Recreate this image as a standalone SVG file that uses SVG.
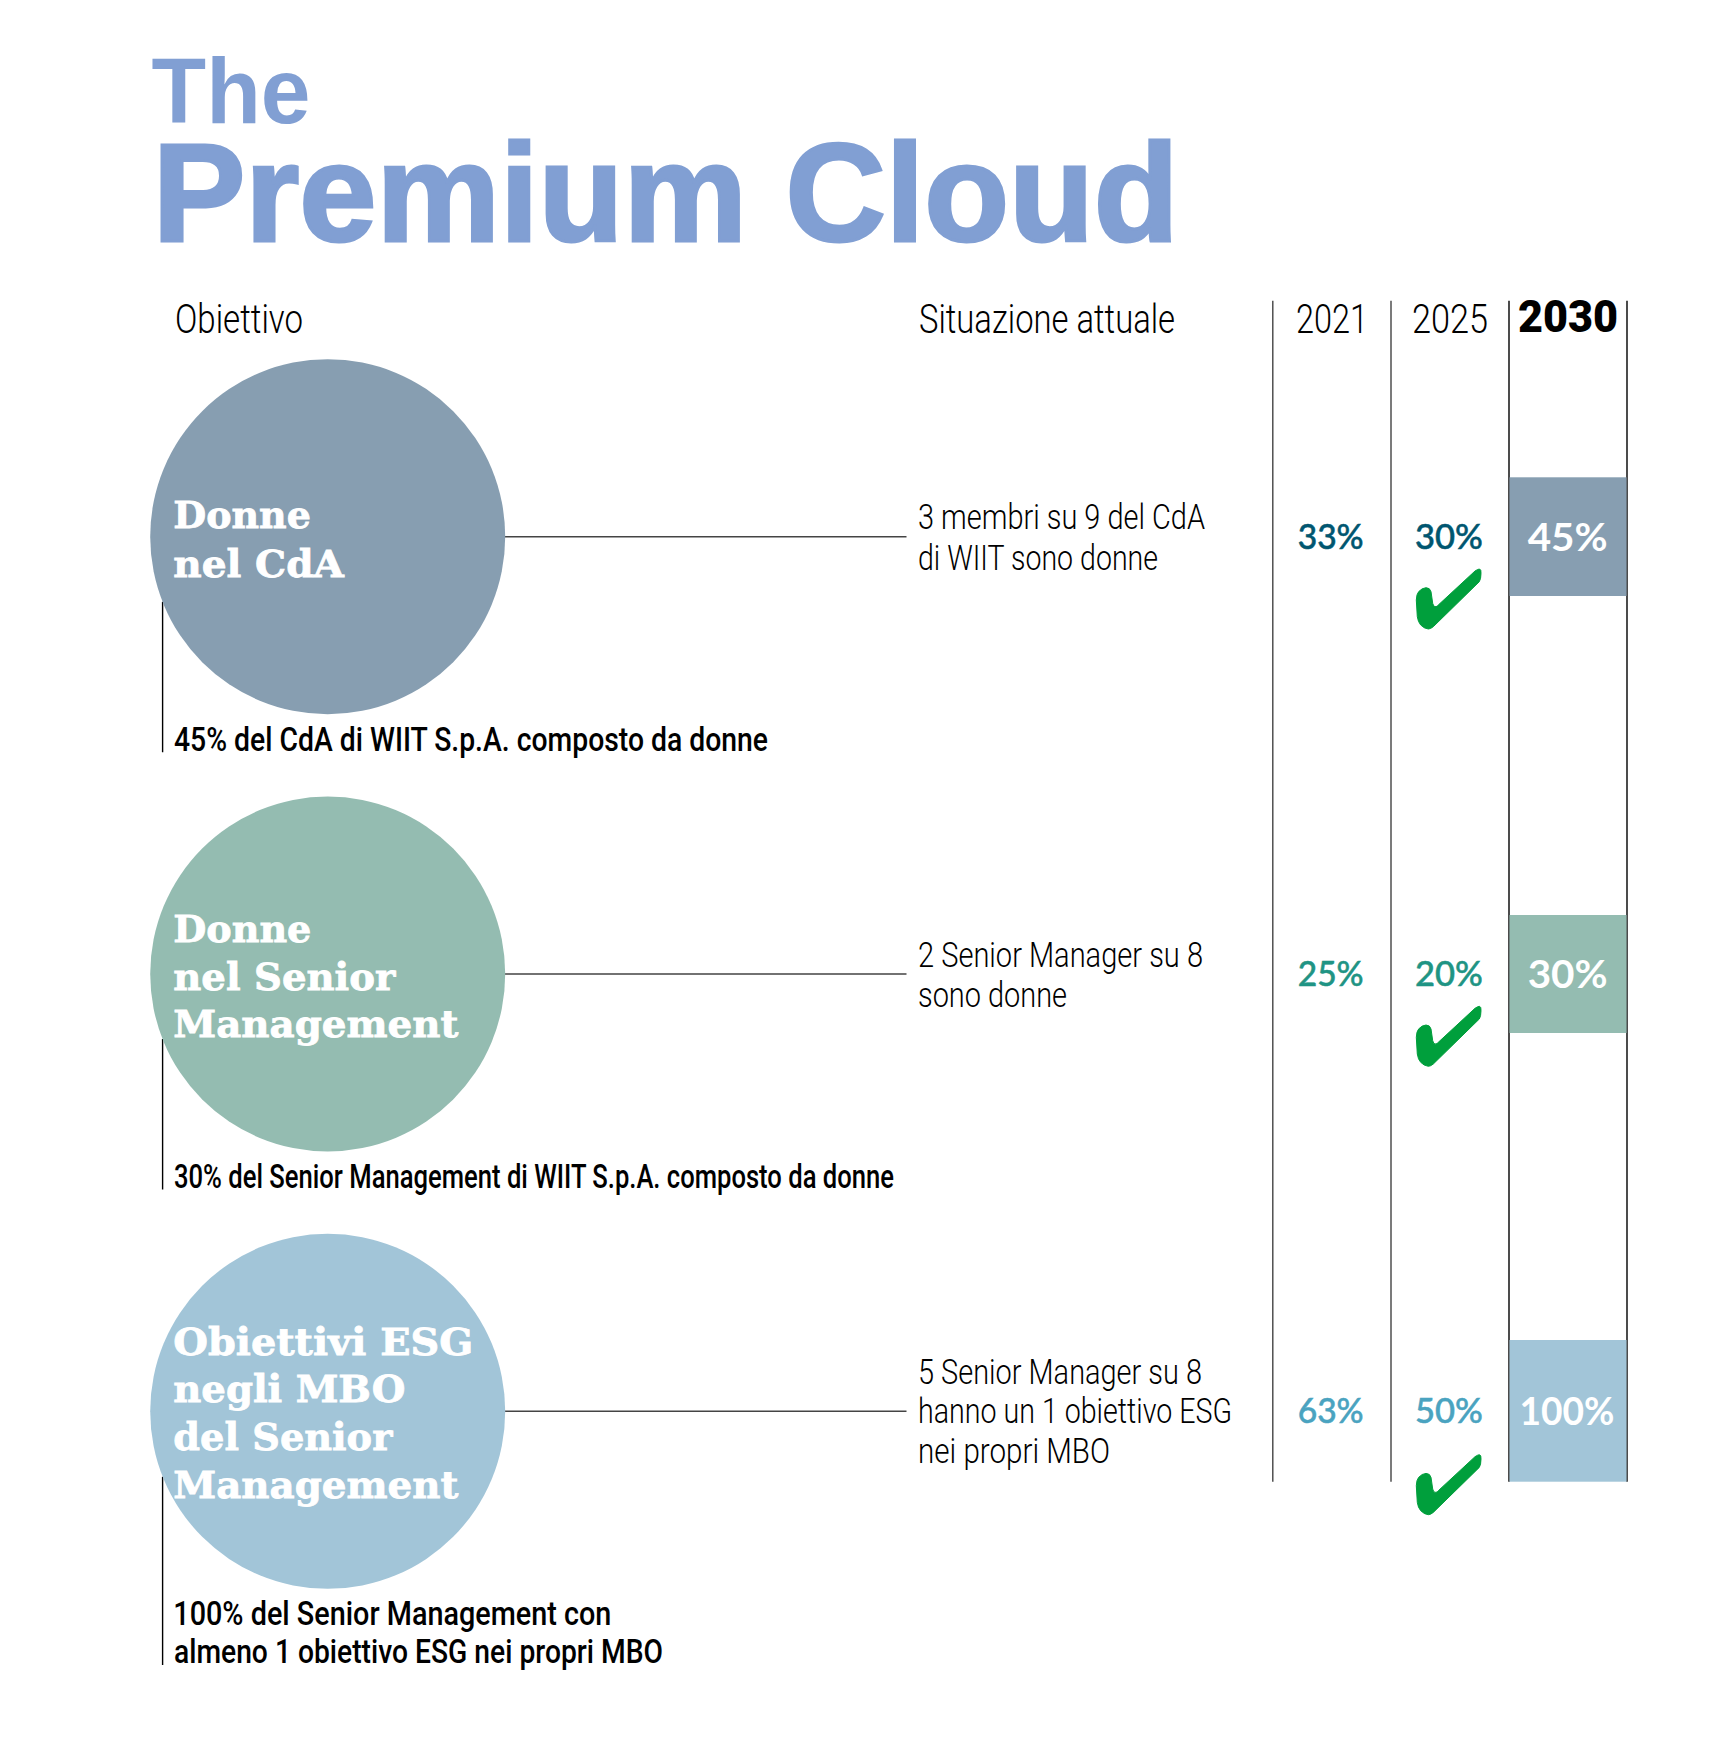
<svg xmlns="http://www.w3.org/2000/svg" width="1727" height="1745" viewBox="0 0 1727 1745">
<style>
text{font-family:"Roboto","Liberation Sans",sans-serif}
.title{font-family:"Liberation Sans",Arial,sans-serif;font-weight:700;fill:#819fd3}
.head{font-size:40px;font-weight:300;fill:#000}
.body{font-size:35px;font-weight:300;fill:#000}
.cap{font-size:33px;font-weight:500;fill:#000}
.serif{font-family:"DejaVu Serif","Liberation Serif",serif;font-weight:700;font-size:38px;fill:#fff;stroke:#fff;stroke-width:.8}
.pct{font-family:"Lato","Open Sans",sans-serif;font-size:34px;font-weight:500;stroke-width:.5}
.big{font-family:"Lato","Open Sans",sans-serif;font-size:38px;font-weight:700;fill:#fff}
.c1{fill:#879eb1}.c2{fill:#94bcb1}.c3{fill:#a2c5d8}
.t1{fill:#005670;stroke:#005670}.t2{fill:#1f9484;stroke:#1f9484}.t3{fill:#4aa3c0;stroke:#4aa3c0}
.lg{stroke:#444;stroke-width:1.4;fill:none}
.lk{stroke:#000;stroke-width:1.4;fill:none}
</style>
<defs>
<path id="tick" fill="#009f3c" stroke="#009f3c" stroke-width="1" stroke-linejoin="round" d="M1416.3 600Q1416.5 594 1418.8 591.5Q1422 588 1426 587.7Q1430 587.7 1431 591.7L1432.7 603.3Q1433.5 607.5 1436 606.7Q1437.3 606.3 1438.3 605L1475 571Q1478 569 1479.5 569Q1481.3 569.5 1481 573.3Q1481 579 1479.3 581.7L1433.3 626.7Q1430.5 629 1428.3 629Q1424 628.5 1420.7 625Q1418 622 1417.3 616.7Z"/>
</defs>
<rect width="1727" height="1745" fill="#fff"/>
<g id="title">
<text class="title" x="151.5" y="122.7" font-size="92" textLength="159" lengthAdjust="spacingAndGlyphs">The</text>
<text class="title" x="152.7" y="240.7" font-size="140" stroke="#819fd3" stroke-width="3" textLength="1026" lengthAdjust="spacingAndGlyphs">Premium Cloud</text>
</g>
<g id="connectors">
<path class="lg" d="M504.5 536.7H906.5M504.5 974H906.5M504.5 1411.3H906.5"/>
<path class="lk" d="M162.6 601.7V752.3M162.6 1039V1189.6M162.6 1476.7V1665"/>
<path class="lg" d="M1272.8 300.7V1481.7M1391 300.7V1481.7"/>
<path class="lk" d="M1509 300.7V1481.7M1627 300.7V1481.7"/>
</g>
<g id="headers">
<text class="head" x="175" y="332.6" textLength="128" lengthAdjust="spacingAndGlyphs">Obiettivo</text>
<text class="head" x="919" y="332.6" textLength="256" lengthAdjust="spacingAndGlyphs">Situazione attuale</text>
<text class="head" x="1296" y="332.6" textLength="72" lengthAdjust="spacingAndGlyphs">2021</text>
<text class="head" x="1412" y="332.6" textLength="76" lengthAdjust="spacingAndGlyphs">2025</text>
<text class="head" x="1518" y="332" style="font-weight:900;font-size:44px" textLength="100" lengthAdjust="spacingAndGlyphs">2030</text>
</g>
<g id="row1">
<circle class="c1" cx="327.7" cy="536.7" r="177.5"/>
<text class="serif" x="173.3" y="528.3" textLength="137.5" lengthAdjust="spacingAndGlyphs">Donne</text>
<text class="serif" x="173.3" y="576.5" textLength="170.5" lengthAdjust="spacingAndGlyphs">nel CdA</text>
<text class="cap" x="174" y="751" textLength="594" lengthAdjust="spacingAndGlyphs">45% del CdA di WIIT S.p.A. composto da donne</text>
<text class="body" x="918" y="529.3" textLength="287" lengthAdjust="spacingAndGlyphs">3 membri su 9 del CdA</text>
<text class="body" x="918" y="569.5" textLength="240" lengthAdjust="spacingAndGlyphs">di WIIT sono donne</text>
<text class="pct t1" x="1297.7" y="549.3" textLength="66" lengthAdjust="spacingAndGlyphs">33%</text>
<text class="pct t1" x="1415" y="549.3" textLength="68" lengthAdjust="spacingAndGlyphs">30%</text>
<rect class="c1" x="1509.5" y="477.3" width="117" height="118.7"/>
<text class="big" x="1527.7" y="551" textLength="80" lengthAdjust="spacingAndGlyphs">45%</text>
<use href="#tick"/>
</g>
<g id="row2">
<circle class="c2" cx="327.7" cy="974" r="177.5"/>
<text class="serif" x="173.3" y="941.7" textLength="138" lengthAdjust="spacingAndGlyphs">Donne</text>
<text class="serif" x="173.3" y="989.5" textLength="222" lengthAdjust="spacingAndGlyphs">nel Senior</text>
<text class="serif" x="173.3" y="1037" textLength="285" lengthAdjust="spacingAndGlyphs">Management</text>
<text class="cap" x="174" y="1188.3" textLength="720" lengthAdjust="spacingAndGlyphs">30% del Senior Management di WIIT S.p.A. composto da donne</text>
<text class="body" x="918" y="966.7" textLength="285" lengthAdjust="spacingAndGlyphs">2 Senior Manager su 8</text>
<text class="body" x="918" y="1006.7" textLength="149" lengthAdjust="spacingAndGlyphs">sono donne</text>
<text class="pct t2" x="1297.7" y="985.7" textLength="66" lengthAdjust="spacingAndGlyphs">25%</text>
<text class="pct t2" x="1415" y="985.7" textLength="68" lengthAdjust="spacingAndGlyphs">20%</text>
<rect class="c2" x="1509.5" y="915" width="117" height="118"/>
<text class="big" x="1527.7" y="987.7" textLength="80" lengthAdjust="spacingAndGlyphs">30%</text>
<use href="#tick" y="437.3"/>
</g>
<g id="row3">
<circle class="c3" cx="327.7" cy="1411.3" r="177.5"/>
<text class="serif" x="173.3" y="1354.7" textLength="300" lengthAdjust="spacingAndGlyphs">Obiettivi ESG</text>
<text class="serif" x="173.3" y="1401.8" textLength="232" lengthAdjust="spacingAndGlyphs">negli MBO</text>
<text class="serif" x="173.3" y="1450.2" textLength="219" lengthAdjust="spacingAndGlyphs">del Senior</text>
<text class="serif" x="173.3" y="1498" textLength="285" lengthAdjust="spacingAndGlyphs">Management</text>
<text class="cap" x="173.3" y="1625" textLength="438" lengthAdjust="spacingAndGlyphs">100% del Senior Management con</text>
<text class="cap" x="174" y="1662.7" textLength="489" lengthAdjust="spacingAndGlyphs">almeno 1 obiettivo ESG nei propri MBO</text>
<text class="body" x="918" y="1383.5" textLength="284" lengthAdjust="spacingAndGlyphs">5 Senior Manager su 8</text>
<text class="body" x="918" y="1423.3" textLength="314" lengthAdjust="spacingAndGlyphs">hanno un 1 obiettivo ESG</text>
<text class="body" x="918" y="1463.3" textLength="192" lengthAdjust="spacingAndGlyphs">nei propri MBO</text>
<text class="pct t3" x="1297.7" y="1423" textLength="66" lengthAdjust="spacingAndGlyphs">63%</text>
<text class="pct t3" x="1415" y="1423" textLength="68" lengthAdjust="spacingAndGlyphs">50%</text>
<rect class="c3" x="1509.5" y="1340" width="117" height="141.7"/>
<text class="big" x="1519.5" y="1425" textLength="95" lengthAdjust="spacingAndGlyphs">100%</text>
<use href="#tick" y="885.7"/>
</g>
</svg>
